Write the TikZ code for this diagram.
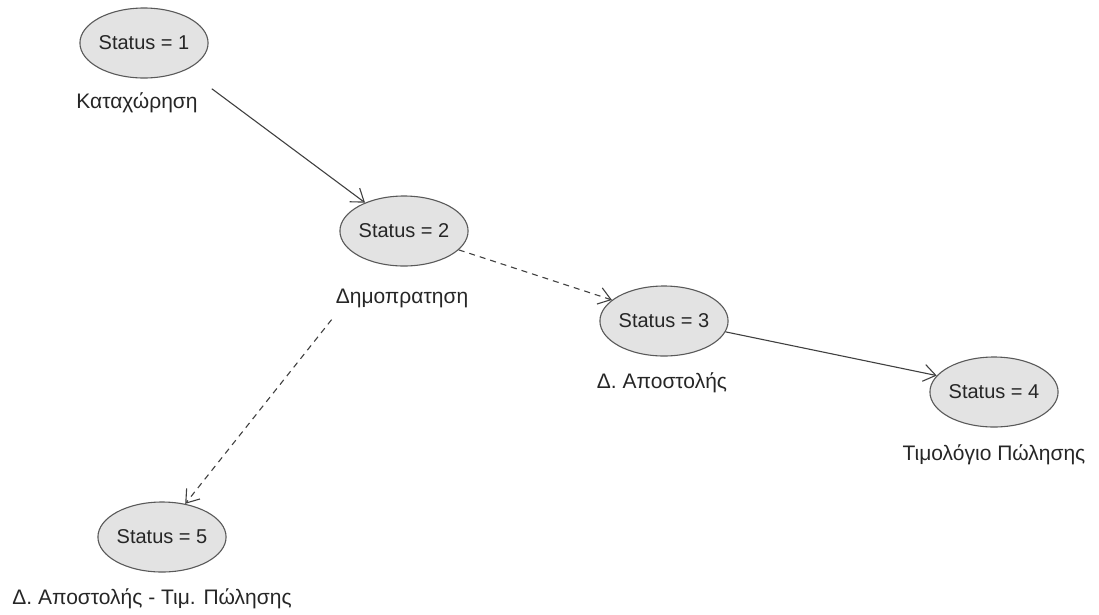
\documentclass[tikz,border=0pt]{standalone}
\usepackage{fontspec}
\setmainfont{Liberation Sans}
\usepackage{tikz}
\usetikzlibrary{shapes.geometric,arrows.meta}

\begin{document}
\begin{tikzpicture}[x=1pt,y=-1pt,
      every node/.style={font=\fontsize{20}{24}\selectfont,text=black!85},
      statenode/.style={ellipse,draw=black!65,fill=black!11,line width=1.1pt,
        minimum width=128pt,minimum height=70pt,inner sep=0pt},
      tag/.style={inner sep=4pt,font=\fontsize{21}{25}\selectfont},
      flow/.style={draw=black!75,line width=1.1pt,-{Straight Barb[length=12pt,width=17pt]}},
      maybe/.style={flow,dash pattern=on 6pt off 5pt}]
    \useasboundingbox (0,0) rectangle (1099,614);
    \node[statenode] (s1) at (144,43) {Status = 1};
    \node[tag] (k1) at (137,103) {Καταχώρηση};
    \node[statenode] (s2) at (404,231) {Status = 2};
    \node[tag] (k2) at (402,298) {Δημοπρατηση};
    \node[statenode] (s3) at (664,321) {Status = 3};
    \node[tag] (k3) at (662,383) {Δ. Αποστολής};
    \node[statenode] (s4) at (994,392) {Status = 4};
    \node[tag] (k4) at (994,455) {Τιμολόγιο Πώλησης};
    \node[statenode] (s5) at (162,537) {Status = 5};
    \node[tag] (k5) at (152,599) {Δ. Αποστολής - Τιμ. Πώλησης};
    % transitions
    \draw[flow] ([xshift=10pt]k1.north east) -- (s2.144);
    \draw[maybe] (s2.-19) -- (s3.158);
    \draw[flow] (s3.-10) -- (s4.164);
    \draw[maybe] ([yshift=-8pt]k2.south west) -- (s5.55);
  \end{tikzpicture}
\end{document}
